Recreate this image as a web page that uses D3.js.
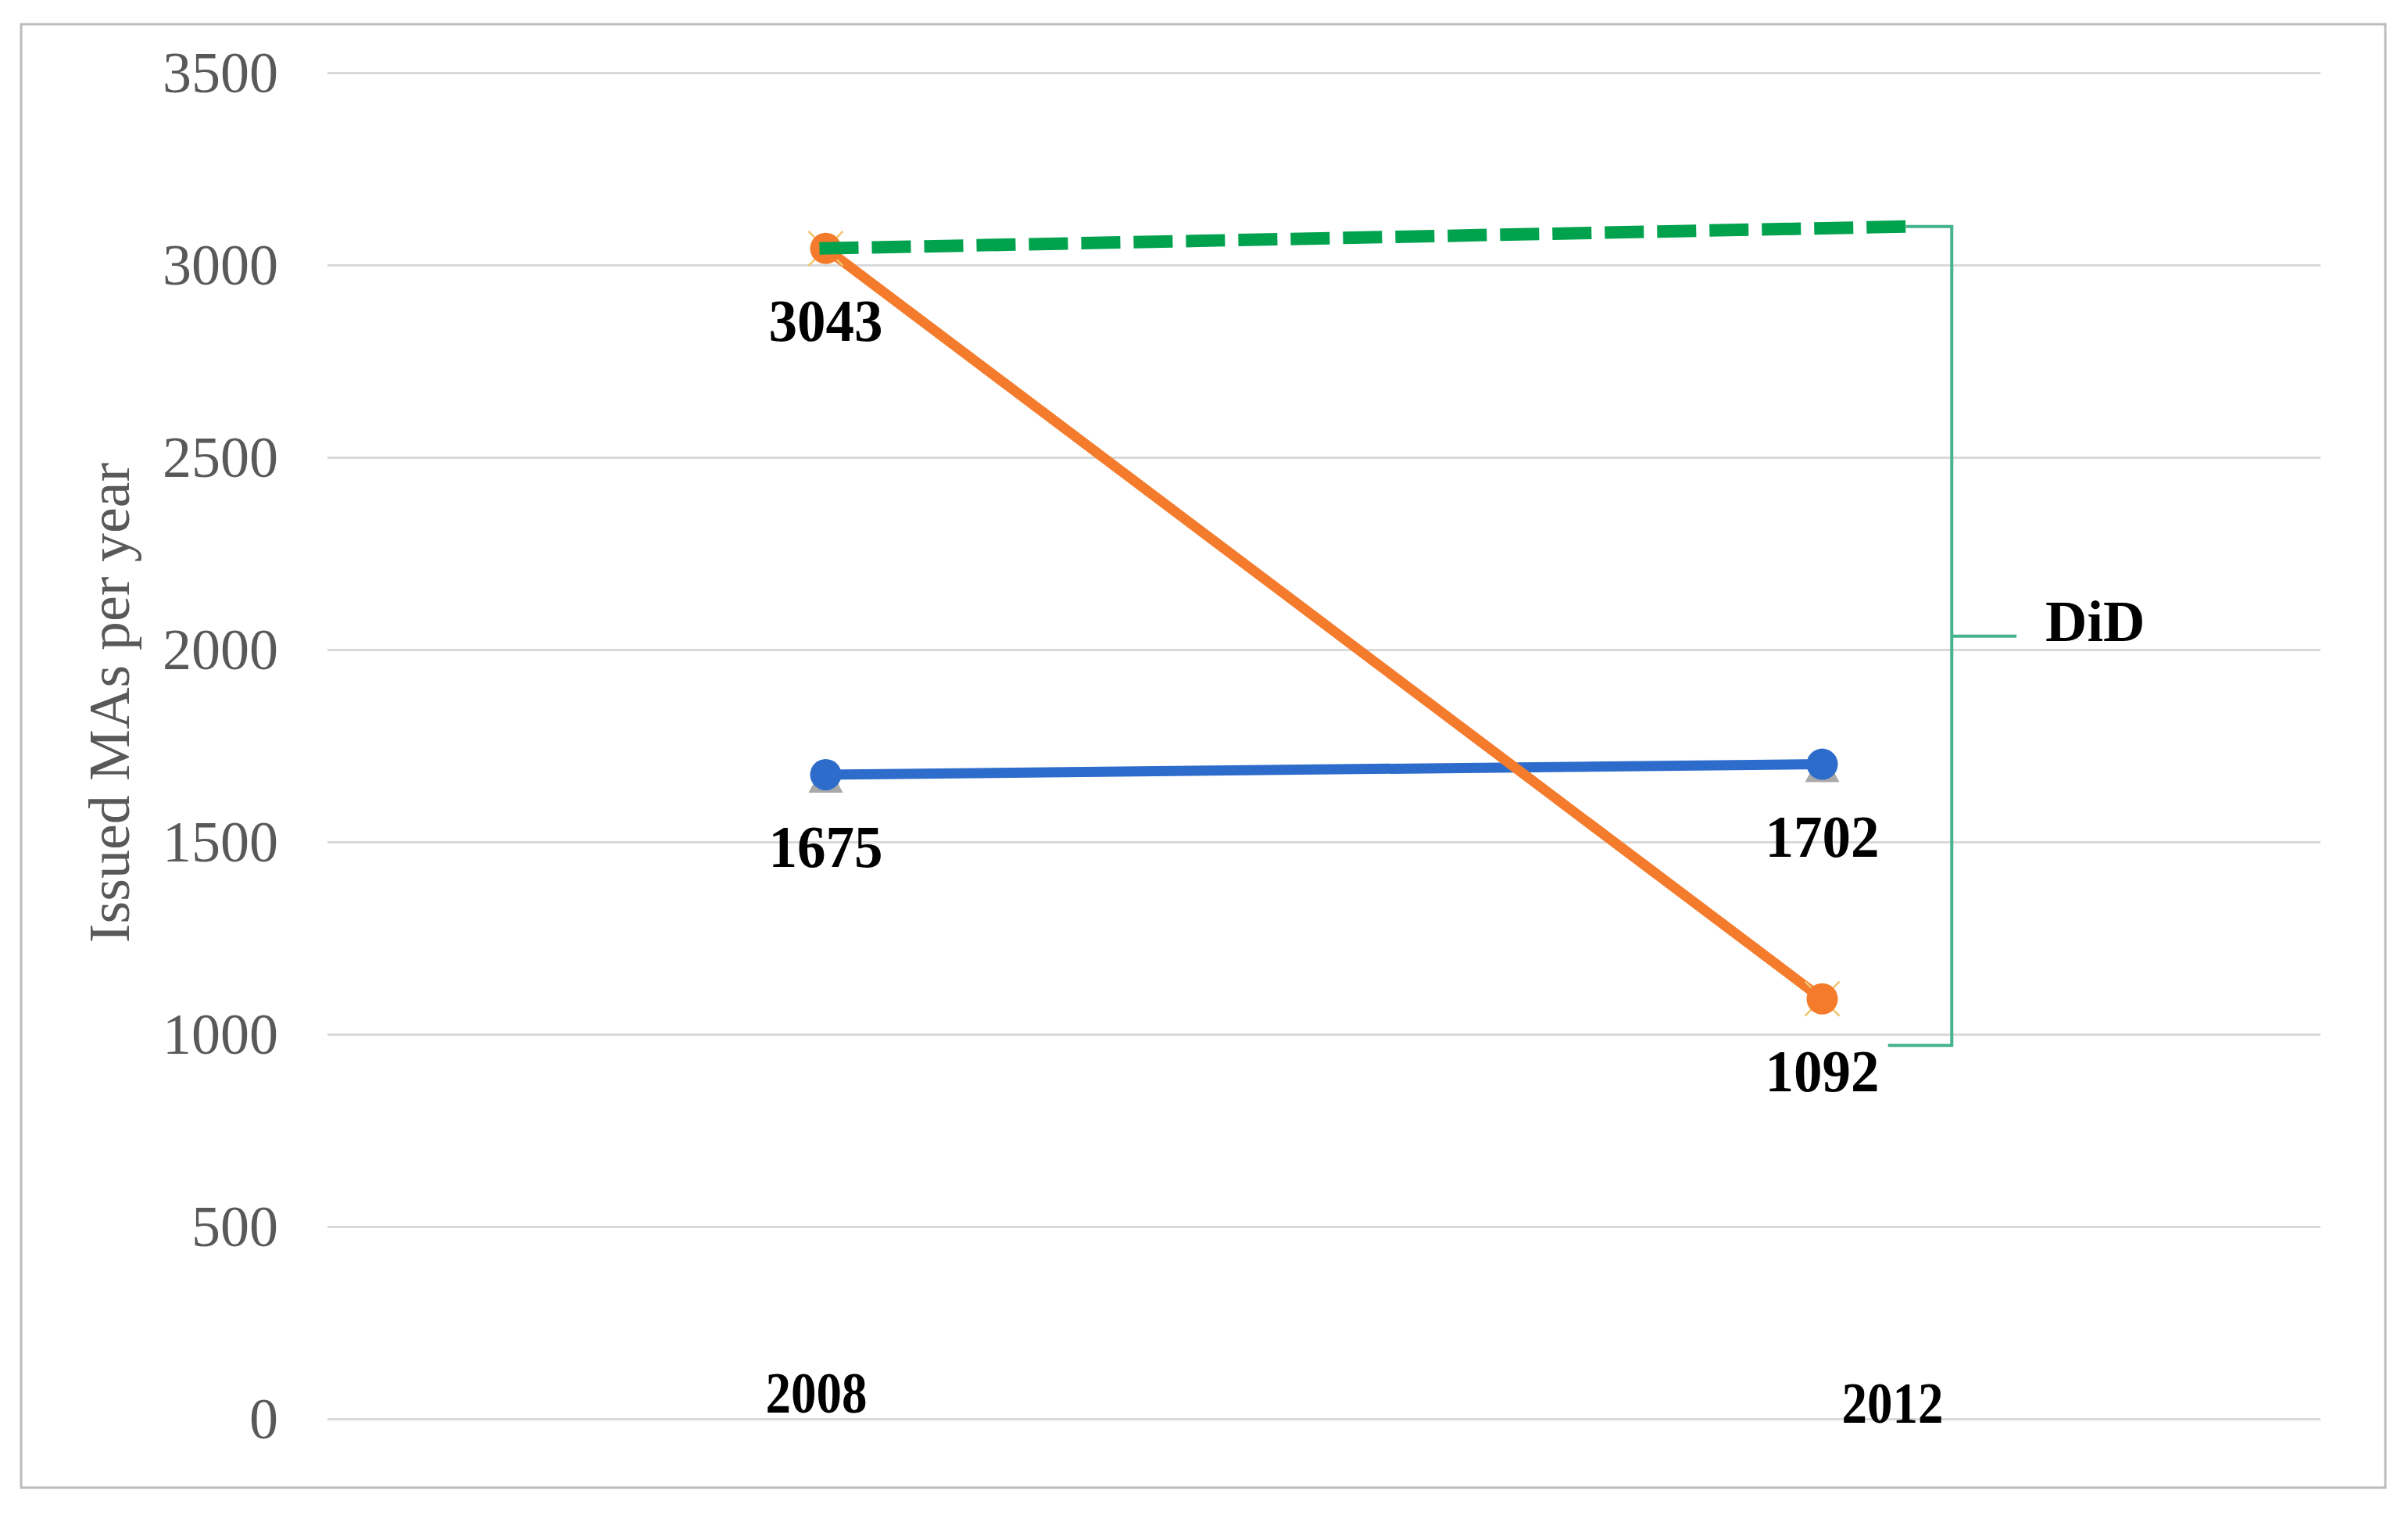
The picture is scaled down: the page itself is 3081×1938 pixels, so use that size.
<!DOCTYPE html>
<html>
<head>
<meta charset="utf-8">
<script src="https://cdn.jsdelivr.net/npm/d3@7"></script>
<style>
  html, body { margin: 0; padding: 0; background: #ffffff; }
  svg { display: block; }
</style>
</head>
<body>
<svg id="chart" width="3081" height="1938"></svg>
<script>
// ---------- data ----------
const categories = ["2008", "2012"];
const treated = [3043, 1092];        // orange series
const control = [1675, 1702];        // blue series
const counterfactual = [3043, 3100]; // green dashed line (start, end)
const bracketBottomValue = 971;      // lower end of DiD bracket
const bracketMidValue = 2035;        // DiD label tick
const yTicks = [0, 500, 1000, 1500, 2000, 2500, 3000, 3500];
const yTitle = "Issued MAs per year";
const didLabel = "DiD";

// ---------- layout ----------
const W = 3081, H = 1938;
const plot = { left: 419, right: 2969, top: 93, bottom: 1815 };
const serif = "'Liberation Serif', 'Times New Roman', serif";

const svg = d3.select("#chart");

svg.append("rect")
  .attr("x", 0).attr("y", 0).attr("width", W).attr("height", H)
  .attr("fill", "#ffffff");

// outer frame
svg.append("rect")
  .attr("x", 27).attr("y", 31).attr("width", 3052 - 27).attr("height", 1903 - 31)
  .attr("fill", "none").attr("stroke", "#bcbcbc").attr("stroke-width", 3);

const xb = d3.scaleBand().domain(categories).range([plot.left, plot.right]);
const bw = xb.bandwidth();
const x = c => xb(c) + bw / 2;
const y = d3.scaleLinear().domain([0, 3500]).range([plot.bottom, plot.top]);

// gridlines + labels via axis
const yAxis = d3.axisLeft(y).tickValues(yTicks).tickFormat(d3.format("d"))
  .tickSize(-(plot.right - plot.left)).tickPadding(63);
const gy = svg.append("g").attr("transform", `translate(${plot.left},0)`).call(yAxis);
gy.select(".domain").remove();
gy.selectAll(".tick line").attr("stroke", "#d9d9d9").attr("stroke-width", 3);
gy.selectAll(".tick text")
  .attr("fill", "#595959")
  .attr("font-family", serif)
  .attr("font-size", 74)
  .attr("dy", "0.33em");

// y title
svg.append("text")
  .attr("transform", `translate(165, ${(590 + 1208) / 2}) rotate(-90)`)
  .attr("text-anchor", "middle")
  .attr("font-family", serif)
  .attr("font-size", 74)
  .attr("fill", "#595959")
  .text(yTitle);

const line = d3.line().x(d => x(d.c)).y(d => y(d.v));

const ctrlData = categories.map((c, i) => ({ c, v: control[i] }));
const trtData = categories.map((c, i) => ({ c, v: treated[i] }));

const blue = "#2E6CCB", orange = "#F47B2C", green = "#00A24E", teal = "#45B48C";

// blue series
svg.append("path").datum(ctrlData).attr("d", line)
  .attr("fill", "none").attr("stroke", blue).attr("stroke-width", 13);
ctrlData.forEach(d => {
  const cx = x(d.c), cy = y(d.v);
  svg.append("path")
    .attr("d", d3.line()([[cx - 22, cy + 23], [cx + 22, cy + 23], [cx, cy - 18]]) + "Z")
    .attr("fill", "#a9a9a9");
  svg.append("circle").attr("cx", cx).attr("cy", cy).attr("r", 20).attr("fill", blue);
});

// orange series
svg.append("path").datum(trtData).attr("d", line)
  .attr("fill", "none").attr("stroke", orange).attr("stroke-width", 13);
trtData.forEach(d => {
  const cx = x(d.c), cy = y(d.v);
  svg.append("path")
    .attr("d", `M${cx - 22},${cy - 22}L${cx + 22},${cy + 22}M${cx + 22},${cy - 22}L${cx - 22},${cy + 22}`)
    .attr("stroke", "#f2c46a").attr("stroke-width", 2.5).attr("fill", "none");
  svg.append("circle").attr("cx", cx).attr("cy", cy).attr("r", 20).attr("fill", orange);
});

// green dashed counterfactual
const greenEndX = x("2012") + 0.084 * bw;
svg.append("line")
  .attr("x1", x("2008") - 8).attr("y1", y(counterfactual[0]))
  .attr("x2", greenEndX).attr("y2", y(counterfactual[1]))
  .attr("stroke", green).attr("stroke-width", 16)
  .attr("stroke-dasharray", "50 17");

// DiD bracket
const bx = x("2012") + 0.13 * bw;
const bracket = d3.path();
bracket.moveTo(greenEndX, y(counterfactual[1]));
bracket.lineTo(bx, y(counterfactual[1]));
bracket.lineTo(bx, y(bracketBottomValue));
bracket.lineTo(x("2012") + 0.066 * bw, y(bracketBottomValue));
bracket.moveTo(bx, y(bracketMidValue));
bracket.lineTo(x("2012") + 0.195 * bw, y(bracketMidValue));
svg.append("path").attr("d", bracket.toString())
  .attr("fill", "none").attr("stroke", teal).attr("stroke-width", 4);

svg.append("text")
  .attr("x", x("2012") + 0.224 * bw)
  .attr("y", y(bracketMidValue) + 6)
  .attr("font-family", serif).attr("font-weight", "bold")
  .attr("font-size", 74).attr("fill", "#000")
  .text(didLabel);

// data labels
[...ctrlData, ...trtData].forEach(d => {
  svg.append("text")
    .attr("x", x(d.c)).attr("y", y(d.v) + 118)
    .attr("text-anchor", "middle")
    .attr("font-family", serif).attr("font-weight", "bold")
    .attr("font-size", 76).attr("fill", "#000")
    .attr("textLength", 146).attr("lengthAdjust", "spacingAndGlyphs")
    .text(d.v);
});

// category labels (manually offset as in the original)
const catOffsets = { "2008": { dx: -12, dy: -8 }, "2012": { dx: 90, dy: 5 } };
categories.forEach(c => {
  svg.append("text")
    .attr("x", x(c) + catOffsets[c].dx)
    .attr("y", y(0) + catOffsets[c].dy)
    .attr("text-anchor", "middle")
    .attr("font-family", serif).attr("font-weight", "bold")
    .attr("font-size", 74).attr("fill", "#000")
    .attr("textLength", 130).attr("lengthAdjust", "spacingAndGlyphs")
    .text(c);
});
</script>
</body>
</html>
